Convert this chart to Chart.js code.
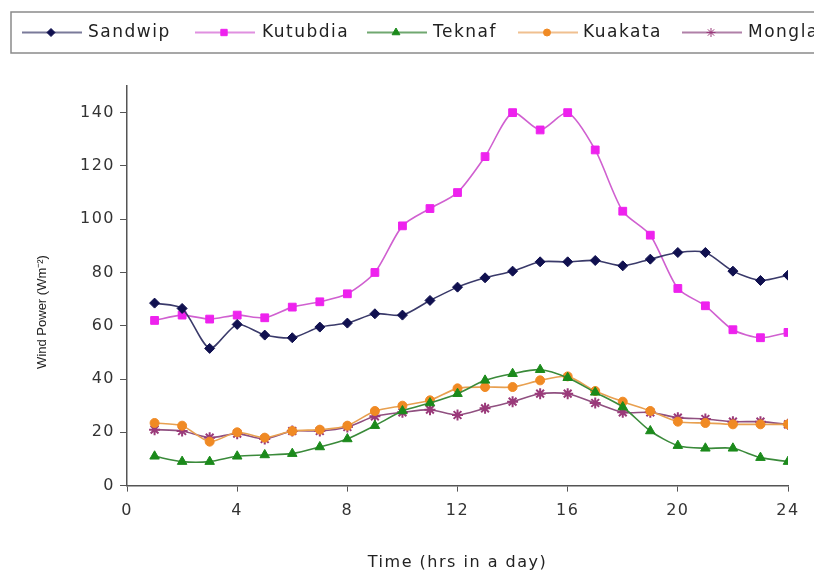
<!DOCTYPE html>
<html>
<head>
<meta charset="utf-8">
<script src="https://cdn.jsdelivr.net/npm/chart.js@4"></script>
<style>
  body { margin: 0; background: #fff; }
</style>
</head>
<body>
<canvas id="myChart" width="814" height="574"></canvas>
<script>
// hours of the day
const hours = [1, 2, 3, 4, 5, 6, 7, 8, 9, 10, 11, 12, 13, 14, 15, 16, 17, 18, 19, 20, 21, 22, 23, 24];
const xTicks = [0, 4, 8, 12, 16, 20, 24];
const yTicks = [0, 20, 40, 60, 80, 100, 120, 140];

// wind power per station (W/m2)
const sandwip = [68.5, 66.5, 51.5, 60.5, 56.5, 55.5, 59.5, 61, 64.5, 64, 69.5, 74.5, 78, 80.5, 84, 84, 84.5, 82.5, 85, 87.5, 87.5, 80.5, 77, 79];
const kutubdia = [62, 64, 62.5, 64, 63, 67, 69, 72, 80, 97.5, 104, 110, 123.5, 140, 133.5, 140, 126, 103, 94, 74, 67.5, 58.5, 55.5, 57.5];
const teknaf = [11, 9, 9, 11, 11.5, 12, 14.5, 17.5, 22.5, 28, 31, 34.5, 39.5, 42, 43.5, 40.5, 35, 29.5, 20.5, 15, 14, 14, 10.5, 9];
const kuakata = [23.5, 22.5, 16.5, 20, 18, 20.5, 21, 22.5, 28, 30, 32, 36.5, 37, 37, 39.5, 41, 35.5, 31.5, 28, 24, 23.5, 23, 23, 23];
const mongla = [21, 20.5, 18, 19.5, 17.5, 20.5, 20.5, 22, 26, 27.5, 28.5, 26.5, 29, 31.5, 34.5, 34.5, 31, 27.5, 27.5, 25.5, 25, 24, 24, 23];

const stations = ['Sandwip', 'Kutubdia', 'Teknaf', 'Kuakata', 'Mongla'];
const series = [sandwip, kutubdia, teknaf, kuakata, mongla];
const markColors = ['#10104f', '#ee22ee', '#1b8a1b', '#f08a24', '#9a3a7a'];
const lineColors = ['#3a3a6a', '#d060d0', '#3a8a3a', '#e8a050', '#905080'];
const legendLine = ['#7a7a9a', '#e090e0', '#70a870', '#f0c090', '#b080a8'];
const markers = ['rectRot', 'rect', 'triangle', 'circle', 'star'];
const markSize = [5, 5.5, 5.5, 4.5, 5.5];

const FONT = '"DejaVu Sans", Verdana, sans-serif';

function pts(vals) {
    return vals.map((v, i) => ({ x: hours[i], y: v }));
}

const datasets = series.map((vals, i) => ({
    label: stations[i],
    data: pts(vals),
    borderColor: lineColors[i],
    backgroundColor: markColors[i],
    pointBackgroundColor: markColors[i],
    pointBorderColor: markColors[i],
    pointStyle: markers[i],
    pointRadius: markSize[i],
    pointBorderWidth: i == 4 ? 2 : 1,
    borderWidth: 1.6,
    tension: 0.25
}));

// the picture is wide, so the horizontal text is spaced out a little
const wideText = {
    id: 'wideText',
    beforeLayout(chart) { chart.ctx.letterSpacing = '1.5px'; },
    beforeDraw(chart) { chart.ctx.letterSpacing = '1.5px'; }
};

// legend box and the y title, drawn on the canvas
const extras = {
    id: 'extras',
    afterDraw(chart) {
        const ctx = chart.ctx;
        ctx.save();
        ctx.strokeStyle = '#8a8a8a';
        ctx.lineWidth = 1.5;
        ctx.strokeRect(11, 12, 900, 41);
        const lineStart = [22, 195, 367, 518, 682];
        const textStart = [88, 262, 433, 583, 748];
        const y = 32.5;
        ctx.font = '17px ' + FONT;
        ctx.letterSpacing = '1.5px';
        ctx.textBaseline = 'middle';
        stations.forEach((name, i) => {
            const x0 = lineStart[i];
            ctx.strokeStyle = legendLine[i];
            ctx.lineWidth = 2;
            ctx.beginPath();
            ctx.moveTo(x0, y);
            ctx.lineTo(x0 + 60, y);
            ctx.stroke();
            ctx.fillStyle = markColors[i];
            ctx.strokeStyle = markColors[i];
            ctx.lineWidth = 1;
            Chart.helpers.drawPoint(ctx, { pointStyle: markers[i], radius: markSize[i] - 1, rotation: 0, borderWidth: 1 }, x0 + 29, y);
            ctx.fillStyle = '#222';
            ctx.fillText(name, textStart[i], y);
        });

        // y axis title
        ctx.letterSpacing = '0px';
        ctx.translate(42, 312);
        ctx.rotate(-Math.PI / 2);
        ctx.font = '13px "Liberation Sans", Arial, sans-serif';
        ctx.textAlign = 'center';
        ctx.textBaseline = 'middle';
        ctx.fillStyle = '#222';
        ctx.fillText('Wind Power (Wm\u207B\u00B2)', 0, 0);
        ctx.restore();
    }
};

const ctx = document.getElementById('myChart').getContext('2d');
const myChart = new Chart(ctx, {
    type: 'line',
    data: { datasets: datasets },
    options: {
        responsive: false,
        animation: false,
        layout: { padding: { top: 86, left: 75, right: 26, bottom: 2 } },
        plugins: {
            legend: { display: false },
            tooltip: { enabled: false }
        },
        scales: {
            x: {
                type: 'linear',
                min: 0,
                max: 24,
                afterBuildTicks: axis => { axis.ticks = xTicks.map(v => ({ value: v })); },
                ticks: { color: '#333', font: { family: FONT, size: 16 }, padding: 10, maxRotation: 0 },
                grid: { drawOnChartArea: false, tickLength: 6, color: '#555' },
                border: { color: '#555', width: 1.5 },
                title: {
                    display: true,
                    text: 'Time (hrs in a day)',
                    color: '#222',
                    font: { family: FONT, size: 16 },
                    padding: { top: 22, bottom: 0 }
                }
            },
            y: {
                min: 0,
                max: 150,
                afterBuildTicks: axis => { axis.ticks = yTicks.map(v => ({ value: v })); },
                ticks: { color: '#333', font: { family: FONT, size: 16 }, padding: 5 },
                grid: { drawOnChartArea: false, tickLength: 7, color: '#555' },
                border: { color: '#555', width: 1.5 }
            }
        }
    },
    plugins: [wideText, extras]
});
</script>
</body>
</html>
